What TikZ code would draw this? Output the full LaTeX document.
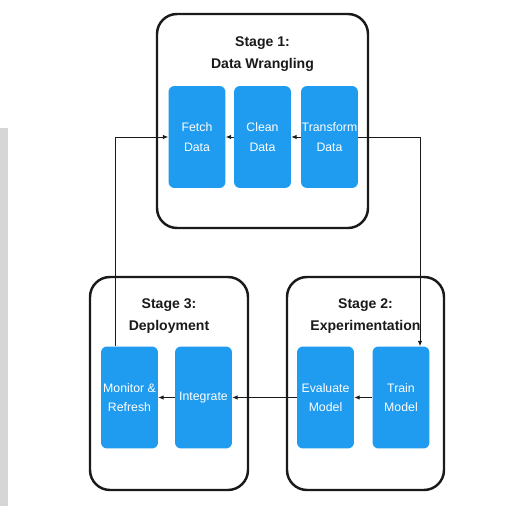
\documentclass[tikz,border=0pt]{standalone}
\usepackage{xcolor}
\usepackage{fontspec}
\setmainfont{Liberation Sans}
\usepackage{tikz}
\usetikzlibrary{arrows.meta}
\definecolor{WFBlue}{HTML}{1F9BEF}
\definecolor{WFEdge}{HTML}{1A1A1A}
\definecolor{WFShade}{HTML}{D6D6D6}
\tikzset{
  stagebox/.style={draw=WFEdge,line width=1.4pt,rounded corners=.4cm,fill=white},
  taskbox/.style={fill=WFBlue,rounded corners=.12cm,minimum width=1.14cm,minimum height=2.04cm,
    inner sep=0pt,align=center,text=white,font=\fontsize{7}{11}\selectfont},
  stagetitle/.style={align=center,font=\fontsize{8}{12.5}\selectfont\bfseries,text=WFEdge},
  flow/.style={draw=WFEdge,line width=.5pt,-{Latex[length=3pt,width=2.6pt]}}
}

\begin{document}
\begin{tikzpicture}[x=0.02cm,y=-0.02cm]
\path[use as bounding box] (0,0) rectangle (512,506);
\fill[WFShade] (0,128) rectangle (8,506);
% stage frames
\draw[stagebox] (157,14) rectangle (368,228);
\draw[stagebox] (287,277) rectangle (444,490);
\draw[stagebox] (90,277) rectangle (248,490);
\node[stagetitle] (s1title) at (262.5,54) {Stage 1:\\Data Wrangling};
\node[stagetitle] (s2title) at (365.5,316) {Stage 2:\\Experimentation};
\node[stagetitle] (s3title) at (169,316) {Stage 3:\\Deployment};
% tasks
\node[taskbox] (fetch) at (197,137) {Fetch\\Data};
\node[taskbox] (clean) at (262.5,137) {Clean\\Data};
\node[taskbox] (transform) at (329.5,137) {Transform\\Data};
\node[taskbox] (train) at (401,397.5) {Train\\Model};
\node[taskbox] (evaluate) at (325.5,397.5) {Evaluate\\Model};
\node[taskbox] (integrate) at (203.5,397.5) {Integrate};
\node[taskbox] (monitor) at (129.5,397.5) {Monitor \&\\Refresh};
% connectors
\coordinate (loopL) at (115,137);
\coordinate (loopR) at (420,137);
\draw[flow] (clean) -- (fetch);
\draw[flow] (transform) -- (clean);
\draw[flow] (transform.east) -| (train.north -| loopR);
\draw[flow] (train) -- (evaluate);
\draw[flow] (evaluate) -- (integrate);
\draw[flow] (integrate) -- (monitor);
\draw[flow] (monitor.north -| loopL) |- (fetch.west);
\end{tikzpicture}
\end{document}
